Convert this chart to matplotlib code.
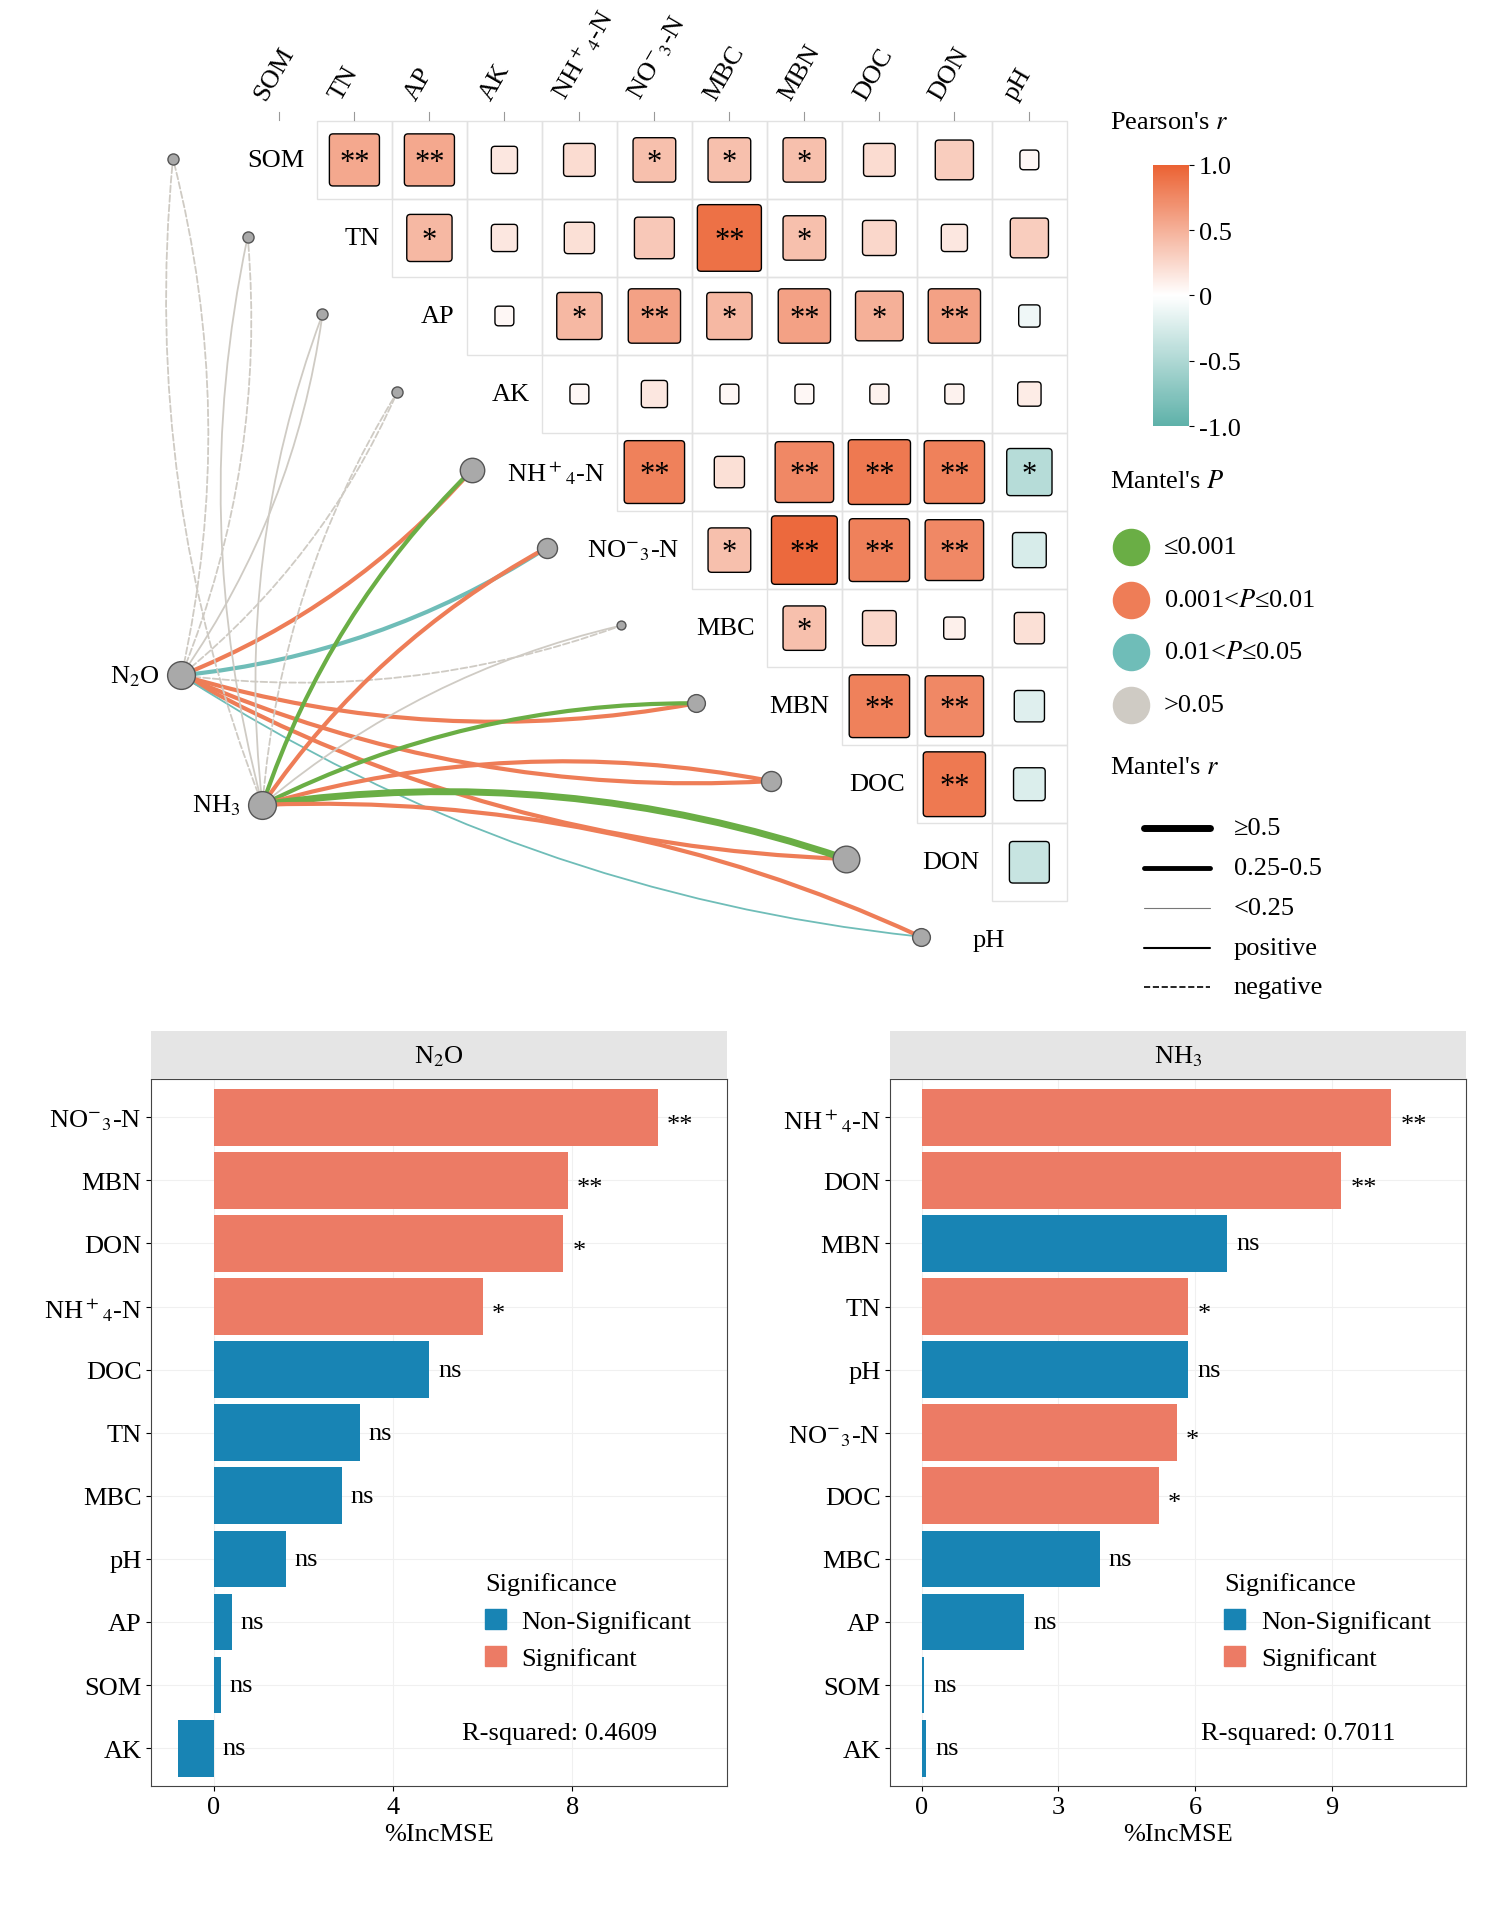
import numpy as np
import matplotlib.pyplot as plt
from matplotlib.patches import Rectangle, FancyBboxPatch, FancyArrowPatch
from matplotlib.colors import LinearSegmentedColormap
from matplotlib.lines import Line2D

plt.rcParams['font.family'] = ['Liberation Serif', 'DejaVu Serif']
plt.rcParams['mathtext.fontset'] = 'stix'

W, H = 1250, 1577

variables = ['SOM', 'TN', 'AP', 'AK', r'NH$^+$$_4$-N', r'NO$^{-}$$_3$-N', 'MBC', 'MBN', 'DOC', 'DON', 'pH']

# upper triangle correlations, row i -> columns i+1..10
corr_rows = [
    [0.55, 0.55, 0.15, 0.22, 0.40, 0.40, 0.40, 0.22, 0.32, 0.05],
    [0.45, 0.15, 0.20, 0.35, 0.90, 0.40, 0.25, 0.15, 0.32],
    [0.05, 0.45, 0.60, 0.45, 0.60, 0.50, 0.60, -0.10],
    [0.05, 0.15, 0.05, 0.05, 0.08, 0.08, 0.12],
    [0.80, 0.20, 0.75, 0.85, 0.80, -0.45],
    [0.40, 0.95, 0.80, 0.75, -0.25],
    [0.40, 0.25, 0.10, 0.20],
    [0.80, 0.75, -0.20],
    [0.85, -0.22],
    [-0.35],
]
sig_rows = [
    ['**', '**', '', '', '*', '*', '*', '', '', ''],
    ['*', '', '', '', '**', '*', '', '', ''],
    ['', '*', '**', '*', '**', '*', '**', ''],
    ['', '', '', '', '', '', ''],
    ['**', '', '**', '**', '**', '*'],
    ['*', '**', '**', '**', ''],
    ['*', '', '', ''],
    ['**', '**', ''],
    ['**', ''],
    [''],
]

# mantel links: (var index, colour class, width class, linestyle)
n2o_links = [(0, 'gray', 0, '--'), (1, 'gray', 0, '--'), (2, 'gray', 0, '-'), (3, 'gray', 0, '--'),
             (4, 'orange', 1, '-'), (5, 'teal', 1, '-'), (6, 'gray', 0, '--'), (7, 'orange', 1, '-'),
             (8, 'orange', 1, '-'), (9, 'orange', 1, '-'), (10, 'teal', 0, '-')]
nh3_links = [(0, 'gray', 0, '--'), (1, 'gray', 0, '-'), (2, 'gray', 0, '-'), (3, 'gray', 0, '--'),
             (4, 'green', 1, '-'), (5, 'orange', 1, '-'), (6, 'gray', 0, '-'), (7, 'green', 1, '-'),
             (8, 'orange', 1, '-'), (9, 'green', 2, '-'), (10, 'orange', 1, '-')]
node_sizes = [5, 5, 5, 5, 11, 9, 4, 8, 9, 12, 8]

n2o_names = ['NO$^{-}$$_3$-N', 'MBN', 'DON', 'NH$^+$$_4$-N', 'DOC', 'TN', 'MBC', 'pH', 'AP', 'SOM', 'AK']
n2o_vals = [9.9, 7.9, 7.8, 6.0, 4.8, 3.25, 2.85, 1.6, 0.4, 0.15, -0.8]
n2o_sig = ['**', '**', '*', '*', 'ns', 'ns', 'ns', 'ns', 'ns', 'ns', 'ns']
nh3_names = ['NH$^+$$_4$-N', 'DON', 'MBN', 'TN', 'pH', 'NO$^{-}$$_3$-N', 'DOC', 'MBC', 'AP', 'SOM', 'AK']
nh3_vals = [10.3, 9.2, 6.7, 5.85, 5.85, 5.6, 5.2, 3.9, 2.25, 0.05, 0.1]
nh3_sig = ['**', '**', 'ns', '*', 'ns', '*', '*', 'ns', 'ns', 'ns', 'ns']

link_colors = {'green': '#6AAE45', 'orange': '#EE7D57', 'teal': '#6FBDB8', 'gray': '#CFCBC4'}
link_widths = [1.3, 3.0, 5.0]
cmap = LinearSegmentedColormap.from_list('pr', ['#5EB1A9', '#FFFFFF', '#EB6233'])
ORANGE, BLUE = '#EC7B65', '#1884B4'

fig = plt.figure(figsize=(15.12, 19.08), dpi=100)
ax = fig.add_axes([0, 0, 1, 1])
ax.set_xlim(0, W)
ax.set_ylim(H, 0)
ax.axis('off')

cw, ch = 62, 64.5
x0, y0 = 231, 133
fs = 19

# column headers
for k, name in enumerate(variables):
    xc = x0 + cw * k
    ax.plot([xc, xc], [93, 100], color='#999999', lw=0.8)
    ax.text(xc - 8, 86, name, rotation=60, ha='left', va='bottom', fontsize=fs,
            rotation_mode='anchor')

# heatmap
for i in range(10):
    yc = y0 + ch * i
    lbl_x = x0 + cw * (i + 1) - cw / 2 - 10
    ax.text(lbl_x, yc, variables[i], ha='right', va='center', fontsize=fs)
    for m, r in enumerate(corr_rows[i]):
        j = i + 1 + m
        xc = x0 + cw * j
        ax.add_patch(Rectangle((xc - cw / 2, yc - ch / 2), cw, ch, fill=False, ec='#E2E2E2', lw=1))
        s = max(np.sqrt(abs(r)), 0.28) * 0.9
        ax.add_patch(FancyBboxPatch((xc - cw * s / 2, yc - ch * s / 2), cw * s, ch * s,
                                    boxstyle='round,pad=0,rounding_size=3',
                                    fc=cmap((r + 1) / 2), ec='black', lw=1))
        if sig_rows[i][m]:
            ax.text(xc, yc + 2, sig_rows[i][m], ha='center', va='center', fontsize=22)

# nodes and links
node_xy = [(143 + 61.8 * k, 132 + 64.3 * k) for k in range(11)]
n2o_xy = (150, 559)
nh3_xy = (217, 666)
for src, links, rad in [(n2o_xy, n2o_links, 0.12), (nh3_xy, nh3_links, -0.12)]:
    for k, col, wc, ls in links:
        p = FancyArrowPatch(src, node_xy[k], arrowstyle='-', connectionstyle=f'arc3,rad={rad}',
                            color=link_colors[col], lw=link_widths[wc], linestyle=ls, zorder=2)
        ax.add_patch(p)
for k, (x, y) in enumerate(node_xy):
    ax.plot(x, y, 'o', ms=node_sizes[k] * 1.6, mfc='#A9A9A9', mec='#555555', zorder=3)
for (x, y), name in [(n2o_xy, 'N$_2$O'), (nh3_xy, 'NH$_3$')]:
    ax.plot(x, y, 'o', ms=20, mfc='#A9A9A9', mec='#555555', zorder=3)
    ax.text(x - 18, y, name, ha='right', va='center', fontsize=fs)
ax.text(804, 778, 'pH', ha='left', va='center', fontsize=fs)

# legends
ax.text(918, 102, "Pearson's $r$", fontsize=fs, va='center')
cax = fig.add_axes([953 / W, 1 - 353 / H, 30 / W, 216 / H])
cb = plt.colorbar(plt.cm.ScalarMappable(cmap=cmap, norm=plt.Normalize(-1, 1)), cax=cax,
                  ticks=[-1, -0.5, 0, 0.5, 1])
cb.ax.set_yticklabels(['-1.0', '-0.5', '0', '0.5', '1.0'], fontsize=fs)
cb.outline.set_visible(False)
ax.text(918, 398, "Mantel's $P$", fontsize=fs, va='center')
for k, (col, lbl) in enumerate([('green', '≤0.001'), ('orange', '0.001<$P$≤0.01'),
                                ('teal', '0.01<$P$≤0.05'), ('gray', '>0.05')]):
    yy = 453 + 43.5 * k
    ax.plot(935, yy, 'o', ms=26, color=link_colors[col])
    ax.text(962, yy, lbl, fontsize=fs, va='center')
ax.text(918, 635, "Mantel's $r$", fontsize=fs, va='center')
for k, (lw, ls, lbl) in enumerate([(5, '-', '≥0.5'), (3.5, '-', '0.25-0.5'), (0.8, '-', '<0.25'),
                                   (1.5, '-', 'positive'), (1.2, '--', 'negative')]):
    yy = 685 + 33 * k
    ax.plot([946, 1000], [yy, yy], color='black' if k != 2 else '#777777', lw=lw, ls=ls,
            solid_capstyle='round')
    ax.text(1020, yy, lbl, fontsize=fs, va='center')


def bar_panel(left, names, vals, sigs, title, xlim, ticks, r2):
    bx = fig.add_axes([left / W, 1 - 1477 / H, 476 / W, 584 / H])
    y = np.arange(len(vals))
    cols = [BLUE if s == 'ns' else ORANGE for s in sigs]
    bx.barh(y, vals, color=cols, height=0.9, zorder=2)
    for yi, v, s in zip(y, vals, sigs):
        off = 0.8 if s == 'ns' and v < 0 else 0.2
        xt = max(v, 0) + off if v >= 0 else 0.2
        bx.text(xt, yi + (0.12 if '*' in s else 0), s, va='center', ha='left', fontsize=fs)
    bx.set_ylim(len(vals) - 0.4, -0.6)
    bx.set_xlim(*xlim)
    bx.set_xticks(ticks)
    bx.set_yticks(y)
    bx.set_yticklabels(names, fontsize=fs)
    bx.tick_params(axis='x', labelsize=fs)
    bx.grid(color='#F0F0F0', lw=0.8, zorder=0)
    bx.set_xlabel('%IncMSE', fontsize=fs)
    for sp in bx.spines.values():
        sp.set_color('#444444')
    hx = fig.add_axes([left / W, 1 - 893 / H, 476 / W, 40 / H])
    hx.set_facecolor('#E5E5E5')
    hx.set_xticks([])
    hx.set_yticks([])
    for sp in hx.spines.values():
        sp.set_visible(False)
    hx.text(0.5, 0.5, title, ha='center', va='center', fontsize=fs, transform=hx.transAxes)
    handles = [Rectangle((0, 0), 1, 1, color=BLUE), Rectangle((0, 0), 1, 1, color=ORANGE)]
    lg = bx.legend(handles, ['Non-Significant', 'Significant'], title='Significance',
                   loc='lower right', bbox_to_anchor=(0.98, 0.13), frameon=False, fontsize=fs,
                   title_fontsize=fs, handlelength=0.8, handleheight=0.8, handletextpad=0.6,
                   alignment='left')
    bx.text(0.54, 0.075, f'R-squared: {r2}', transform=bx.transAxes, fontsize=fs, va='center')


bar_panel(125, n2o_names, n2o_vals, n2o_sig, 'N$_2$O', (-1.4, 11.45), [0, 4, 8], '0.4609')
bar_panel(736, nh3_names, nh3_vals, nh3_sig, 'NH$_3$', (-0.69, 11.94), [0, 3, 6, 9], '0.7011')

fig.savefig('out.png', dpi=100)
